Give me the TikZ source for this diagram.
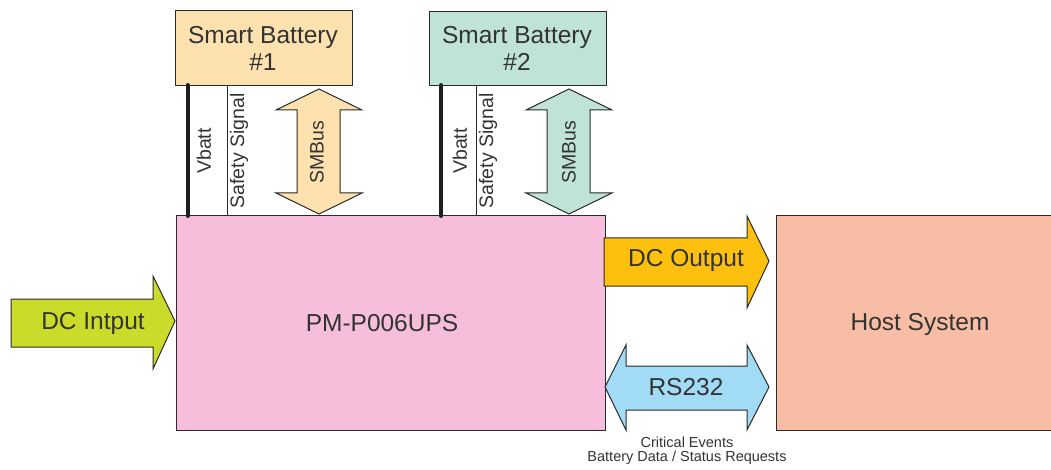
\documentclass[tikz,border=0pt]{standalone}
\usepackage{fontspec}
\setmainfont{Liberation Sans}
\definecolor{txt}{HTML}{333333}
\definecolor{edge}{HTML}{2A2A2A}
\definecolor{batA}{HTML}{FDE2B0}
\definecolor{batB}{HTML}{BFE3D4}
\definecolor{pmfill}{HTML}{F6BEDA}
\definecolor{hostfill}{HTML}{F8BDA5}
\definecolor{outfill}{HTML}{FDC00F}
\definecolor{rsfill}{HTML}{A2DBF5}
\definecolor{infill}{HTML}{CBDB2A}
\tikzset{
  box/.style={draw=edge, line width=1pt, inner sep=0pt, text=txt, font=\fontsize{24.5}{29}\selectfont, align=center},
  fatarrow/.style={draw=edge, line width=1pt, line join=miter},
  lbl/.style={text=txt, font=\fontsize{24.5}{29}\selectfont, inner sep=0pt},
  vlbl/.style={text=txt, font=\fontsize{19.5}{23}\selectfont, inner sep=0pt, rotate=90},
  small/.style={text=txt, font=\fontsize{14.5}{17}\selectfont, inner sep=0pt, align=center},
  vbatt/.style={line width=4pt, draw=black!88, line cap=round},
  sig/.style={line width=0.8pt, draw=edge}
}
\begin{document}
\begin{tikzpicture}[x=1pt, y=-1pt]
\useasboundingbox (0,0) rectangle (1051,470);
\begin{scope}
\clip (0,0) rectangle (1051,470);
% boxes
\draw[box, fill=batA] (175,11) rectangle (352,86);
\node[lbl, align=center] (bat1) at (263,48) {Smart Battery\\[-2pt]\#1};
\draw[box, fill=batB] (429,12) rectangle (606,86);
\node[lbl, align=center] (bat2) at (517,48) {Smart Battery\\[-2pt]\#2};
\draw[box, fill=pmfill] (176,216) rectangle (605,430);
\node[lbl] (pm) at (382,323) {PM-P006UPS};
\draw[box, fill=hostfill] (776,216) rectangle (1064,430);
\node[lbl] (host) at (920,324) {Host System};

% DC input arrow
\draw[fatarrow, fill=infill] (11,299) -- (153,299) -- (153,276) -- (175,321) -- (153,369) -- (153,347) -- (11,347) -- cycle;
\node[lbl] (dcin) at (93,323) {DC Intput};

% DC output arrow
\draw[fatarrow, fill=outfill] (604,238) -- (747,238) -- (747,216) -- (769,261) -- (747,308) -- (747,286) -- (604,286) -- cycle;
\node[lbl] (dcout) at (686,260) {DC Output};

% RS232 double arrow
\draw[fatarrow, fill=rsfill] (605,387) -- (626,345) -- (626,366) -- (747,366) -- (747,345) -- (769,387) -- (747,430) -- (747,410) -- (626,410) -- (626,430) -- cycle;
\node[lbl] (rs) at (686,387) {RS232};
\node[small] (ev) at (687,451) {Critical Events\\[-3pt]Battery Data / Status Requests};

% SMBus arrows
\draw[fatarrow, fill=batA] (319,89) -- (362,110) -- (340,110) -- (340,193) -- (362,193) -- (319,214) -- (276,193) -- (297,193) -- (297,110) -- (276,110) -- cycle;
\node[vlbl] (smb1) at (317,152) {SMBus};
\draw[fatarrow, fill=batB] (569,89) -- (612,110) -- (590,110) -- (590,193) -- (612,193) -- (569,214) -- (526,193) -- (547,193) -- (547,110) -- (526,110) -- cycle;
\node[vlbl] (smb2) at (569,152) {SMBus};

% Vbatt and safety lines
\draw[vbatt] (187.5,85) -- (187.5,216);
\node[vlbl] (vb1) at (204,151) {Vbatt};
\draw[sig] (227,86) -- (227,216);
\node[vlbl] (ss1) at (239,151) {Safety Signal};
\draw[vbatt] (441,85) -- (441,216);
\node[vlbl] (vb2) at (460,151) {Vbatt};
\draw[sig] (476,86) -- (476,216);
\node[vlbl] (ss2) at (488,151) {Safety Signal};
\end{scope}
\end{tikzpicture}
\end{document}
